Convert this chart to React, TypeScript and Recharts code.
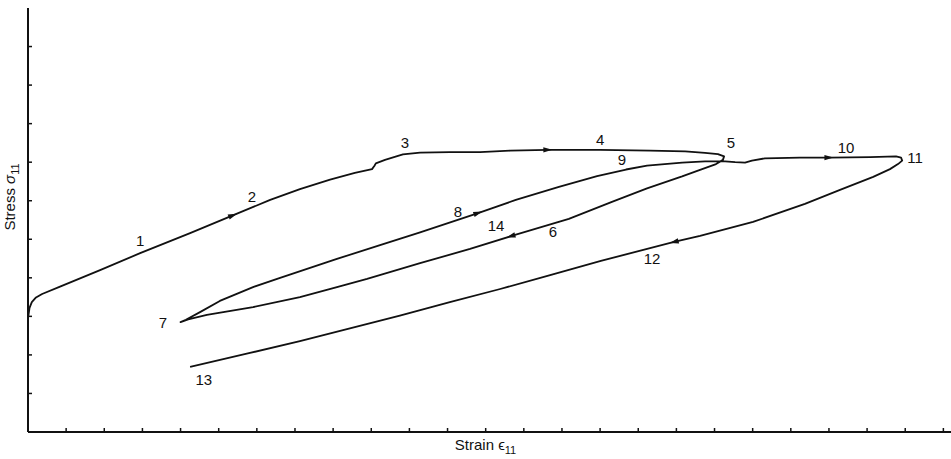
import React from "react";
import { ComposedChart, Line, Scatter, XAxis, YAxis, Label } from "recharts";

// loading path (strain / stress in tick units)
const strain = [
  0.01, 0.04, 0.1, 0.21, 0.37, 0.84, 1.89, 2.94, 4.25, 5.37, 6.35, 7.13, 7.92,
  8.57, 9.02, 9.08, 9.12, 9.36, 9.83, 10.28, 11.06, 11.85, 12.64, 13.63, 15.0,
  16.31, 17.23, 17.75, 18.09, 18.25, 18.22, 18.04, 17.62, 17.15, 16.23, 15.31,
  14.18, 12.66, 11.59, 10.28, 8.89, 8.1, 7.13, 5.9, 4.69, 4.2, 4.0, 4.14, 4.51,
  5.03, 5.9, 6.61, 8.1, 9.23, 10.28, 11.8, 12.79, 13.92, 14.92, 15.68, 16.23,
  17.15, 17.75, 18.19, 18.54, 18.8, 18.98, 19.32, 20.24, 21.0, 22.08, 22.76,
  22.89, 22.92, 22.81, 22.6, 22.16, 21.29, 20.37, 19.01, 17.62, 16.94, 15.02,
  13.69, 12.38, 11.06, 9.75, 8.44, 7.13, 5.82, 4.25,
];
const stress = [
  3.01, 3.22, 3.37, 3.49, 3.58, 3.77, 4.2, 4.64, 5.16, 5.62, 6.02, 6.3, 6.55,
  6.72, 6.82, 6.9, 6.97, 7.06, 7.2, 7.25, 7.26, 7.26, 7.3, 7.32, 7.32, 7.3,
  7.28, 7.24, 7.21, 7.15, 7.06, 6.95, 6.8, 6.63, 6.32, 5.97, 5.53, 5.08, 4.75,
  4.38, 3.97, 3.76, 3.5, 3.24, 3.04, 2.92, 2.85, 2.91, 3.11, 3.4, 3.76, 4.0,
  4.49, 4.85, 5.18, 5.68, 6.02, 6.36, 6.64, 6.81, 6.91, 6.99, 7.02, 7.03, 7.0,
  6.99, 7.04, 7.1, 7.12, 7.12, 7.13, 7.15, 7.12, 7.04, 6.95, 6.82, 6.62, 6.28,
  5.92, 5.45, 5.09, 4.93, 4.44, 4.07, 3.71, 3.37, 3.02, 2.69, 2.36, 2.05, 1.69,
];
// points of the path that carry a direction arrow
const arrowAt = [9, 23, 37, 55, 69, 81];

const labelText = ["1", "2", "3", "4", "5", "6", "7", "8", "9", "10", "11", "12", "13", "14"];
const labelStrain = [2.94, 5.87, 9.88, 15.0, 18.43, 13.76, 3.54, 11.27, 15.57, 21.45, 23.26, 16.36, 4.61, 12.27];
const labelStress = [4.96, 6.1, 7.5, 7.6, 7.5, 5.19, 2.83, 5.73, 7.08, 7.39, 7.11, 4.51, 1.35, 5.37];

const xTicks = [1, 2, 3, 4, 5, 6, 7, 8, 9, 10, 11, 12, 13, 14, 15, 16, 17, 18, 19, 20, 21, 22, 23, 24];
const yTicks = [1, 2, 3, 4, 5, 6, 7, 8, 9, 10];

const pathData = strain.map((x, i) => ({ x, y: stress[i], arrow: arrowAt.includes(i) }));
const labelData = labelText.map((text, i) => ({ x: labelStrain[i], y: labelStress[i], text }));

const INK = "#111";
const FONT = "'Liberation Sans', Arial, Helvetica, sans-serif";
const TICK = 4;

// tick marks point inward, no tick text
const XTick = (props: any) => {
  const { x, y } = props;
  return <line x1={x} x2={x} y1={y} y2={y - TICK} stroke={INK} strokeWidth={1.5} />;
};
const YTick = (props: any) => {
  const { x, y } = props;
  return <line x1={x} x2={x + TICK} y1={y} y2={y} stroke={INK} strokeWidth={1.5} />;
};

const ArrowDot = (props: any) => {
  const { cx, cy, index, points, payload } = props;
  if (!payload || !payload.arrow || !points || !points[index - 1] || !points[index + 1]) {
    return <g key={`d-${index}`} />;
  }
  const a = points[index - 1];
  const b = points[index + 1];
  const dx = b.x - a.x;
  const dy = b.y - a.y;
  const len = Math.hypot(dx, dy) || 1;
  const ux = dx / len;
  const uy = dy / len;
  const nx = -uy;
  const ny = ux;
  const L = 4.5;
  const W = 2.7;
  const pts = [
    [cx + ux * L, cy + uy * L],
    [cx - ux * L + nx * W, cy - uy * L + ny * W],
    [cx - ux * L - nx * W, cy - uy * L - ny * W],
  ];
  return <polygon key={`d-${index}`} points={pts.map((p) => p.join(",")).join(" ")} fill={INK} />;
};

const CurveLabel = (props: any) => {
  const { cx, cy, payload } = props;
  return (
    <text x={cx} y={cy} textAnchor="middle" dominantBaseline="central" fontSize={15} fontFamily={FONT} fill={INK}>
      {payload.text}
    </text>
  );
};

const StrainTitle = (props: any) => {
  const vb = props.viewBox || { x: 28, y: 432, width: 923, height: 27 };
  const x = vb.x + vb.width / 2 - 4;
  const y = vb.y + 18;
  return (
    <text x={x} y={y} textAnchor="middle" fontSize={15} fontFamily={FONT} fill={INK}>
      Strain ϵ
      <tspan fontSize={11} dy={4}>11</tspan>
    </text>
  );
};

const StressTitle = (props: any) => {
  const vb = props.viewBox || { x: 0, y: 8, width: 28, height: 424 };
  const x = vb.x + 15;
  const y = vb.y + vb.height / 2 - 23;
  return (
    <text x={x} y={y} transform={`rotate(-90, ${x}, ${y})`} textAnchor="middle" fontSize={15} fontFamily={FONT} fill={INK}>
      Stress <tspan fontStyle="italic">σ</tspan>
      <tspan fontSize={11} dy={4}>11</tspan>
    </text>
  );
};

export default function App() {
  return (
    <div style={{ position: "absolute", left: 0, top: 0, width: 951, height: 459, background: "#fff" }}>
      <ComposedChart width={951} height={459} margin={{ top: 8, right: 0, bottom: 0, left: 0 }}>
        <XAxis
          type="number"
          dataKey="x"
          domain={[0, 24.2]}
          ticks={xTicks}
          interval={0}
          allowDataOverflow
          height={27}
          tick={XTick}
          tickSize={0}
          tickMargin={0}
          tickLine={false}
          axisLine={{ stroke: INK, strokeWidth: 2 }}
        >
          <Label content={StrainTitle} />
        </XAxis>
        <YAxis
          type="number"
          dataKey="y"
          domain={[0, 11]}
          ticks={yTicks}
          interval={0}
          allowDataOverflow
          width={28}
          tick={YTick}
          tickSize={0}
          tickMargin={0}
          tickLine={false}
          axisLine={{ stroke: INK, strokeWidth: 2 }}
        >
          <Label content={StressTitle} />
        </YAxis>
        <Line
          data={pathData}
          dataKey="y"
          type="linear"
          stroke={INK}
          strokeWidth={1.8}
          strokeLinejoin="round"
          dot={ArrowDot}
          activeDot={false}
          isAnimationActive={false}
        />
        <Scatter data={labelData} dataKey="y" shape={CurveLabel} isAnimationActive={false} />
      </ComposedChart>
    </div>
  );
}
